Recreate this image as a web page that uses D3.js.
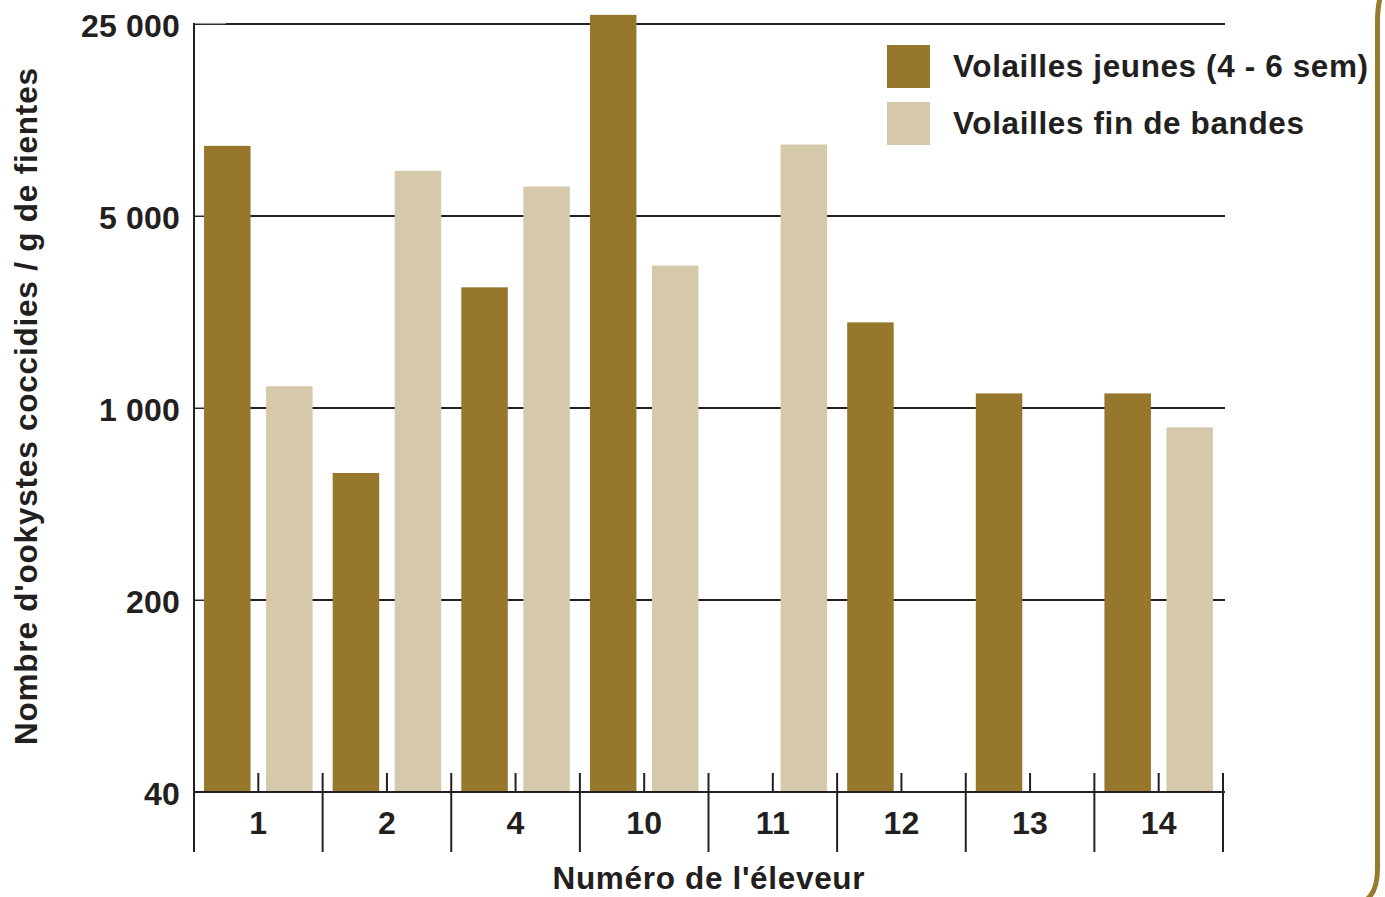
<!DOCTYPE html>
<html>
<head>
<meta charset="utf-8">
<script src="https://cdn.jsdelivr.net/npm/d3@7"></script>
<style>
  html, body { margin: 0; padding: 0; background: #fff; }
  svg { display: block; }
  text { font-family: "Liberation Sans", Arial, Helvetica, sans-serif; font-weight: bold; fill: #231F20; }
</style>
</head>
<body>
<svg id="chart" width="1385" height="897"></svg>
<script>
const groups = ["1", "2", "4", "10", "11", "12", "13", "14"];
const seriesNames = ["Volailles jeunes (4 - 6 sem)", "Volailles fin de bandes"];
const jeunes = [9000, 580, 2750, 27000, null, 2050, 1130, 1130];
const finBandes = [1200, 7300, 6400, 3300, 9100, null, null, 850];
const yTicks = [40, 200, 1000, 5000, 25000];
const yTickLabels = ["40", "200", "1 000", "5 000", "25 000"];
const colors = ["#96772C", "#D6C8AA"];

const svg = d3.select("#chart");
const mLeft = 194, mRight = 1223, mTop = 24, mBottom = 792;

const x = d3.scaleBand().domain(groups).range([mLeft, mRight]).padding(0);
const sub = d3.scaleBand().domain([0, 1]).range([0, x.bandwidth()]).paddingInner(0.25).paddingOuter(0.162);
const y = d3.scaleLog().domain([40, 25000]).range([mBottom, mTop]);

// gridlines
svg.append("g").selectAll("line").data(yTicks.slice(1)).join("line")
  .attr("x1", mLeft).attr("x2", mRight + 2)
  .attr("y1", d => y(d)).attr("y2", d => y(d))
  .attr("stroke", "#231F20").attr("stroke-width", 2);

// grey y tick stubs
svg.append("g").selectAll("line").data(yTicks).join("line")
  .attr("x1", mLeft).attr("x2", mLeft + 32)
  .attr("y1", d => y(d) - 0.5).attr("y2", d => y(d) - 0.5)
  .attr("stroke", "#9a9a9a").attr("stroke-width", 1.2);

// bars
const data = groups.map((g, i) => ({ g, vals: [jeunes[i], finBandes[i]] }));
const gg = svg.append("g").selectAll("g").data(data).join("g")
  .attr("transform", d => `translate(${x(d.g)},0)`);
gg.selectAll("rect").data(d => d.vals.map((v, k) => ({ v, k })).filter(e => e.v != null)).join("rect")
  .attr("x", e => sub(e.k))
  .attr("width", sub.bandwidth())
  .attr("y", e => y(e.v))
  .attr("height", e => mBottom - y(e.v))
  .attr("fill", e => colors[e.k]);

// x axis line
svg.append("line").attr("x1", mLeft).attr("x2", mRight + 2).attr("y1", mBottom).attr("y2", mBottom)
  .attr("stroke", "#231F20").attr("stroke-width", 2);
// y axis line
svg.append("line").attr("x1", mLeft).attr("x2", mLeft).attr("y1", mTop - 1).attr("y2", 852)
  .attr("stroke", "#231F20").attr("stroke-width", 2);

// boundary ticks
const bounds = groups.map(g => x(g)).concat([mRight]);
svg.append("g").selectAll("line").data(bounds.slice(1)).join("line")
  .attr("x1", d => d).attr("x2", d => d).attr("y1", 773).attr("y2", 852)
  .attr("stroke", "#231F20").attr("stroke-width", 2);
// center ticks
svg.append("g").selectAll("line").data(groups).join("line")
  .attr("x1", d => x(d) + x.bandwidth() / 2).attr("x2", d => x(d) + x.bandwidth() / 2)
  .attr("y1", 773).attr("y2", mBottom)
  .attr("stroke", "#231F20").attr("stroke-width", 2);

// x labels
svg.append("g").selectAll("text").data(groups).join("text")
  .attr("x", d => x(d) + x.bandwidth() / 2).attr("y", 834)
  .attr("text-anchor", "middle").attr("font-size", 32).attr("letter-spacing", 0.2).text(d => d);

// y labels
svg.append("g").selectAll("text").data(yTicks).join("text")
  .attr("x", 180).attr("y", d => y(d) + 13)
  .attr("text-anchor", "end").attr("font-size", 32).attr("letter-spacing", 0.2)
  .text((d, i) => yTickLabels[i]);

// axis titles
svg.append("text").attr("x", (mLeft + mRight) / 2).attr("y", 889)
  .attr("text-anchor", "middle").attr("font-size", 31.5)
  .attr("textLength", 312).attr("lengthAdjust", "spacing").text("Numéro de l'éleveur");
svg.append("text").attr("transform", `translate(37,406.5) rotate(-90)`)
  .attr("text-anchor", "middle").attr("font-size", 31.5)
  .attr("textLength", 677).attr("lengthAdjust", "spacing")
  .text("Nombre d'ookystes coccidies / g de fientes");

// legend
const legendWidths = [415, 351];
const leg = svg.append("g").selectAll("g").data(seriesNames).join("g")
  .attr("transform", (d, i) => `translate(887,${45 + i * 57})`);
leg.append("rect").attr("width", 43).attr("height", 43).attr("fill", (d, i) => colors[i]);
leg.append("text").attr("x", 66).attr("y", 32).attr("font-size", 31.5)
  .attr("textLength", (d, i) => legendWidths[i]).attr("lengthAdjust", "spacing").text(d => d);

// right bracket
const p = d3.path();
p.moveTo(1380, -2);
p.quadraticCurveTo(1377.5, 8, 1377.5, 22);
p.lineTo(1377.5, 868);
p.quadraticCurveTo(1377.5, 892, 1366, 900);
svg.append("path").attr("d", p.toString()).attr("fill", "none")
  .attr("stroke", "#977A2E").attr("stroke-width", 5);
</script>
</body>
</html>
